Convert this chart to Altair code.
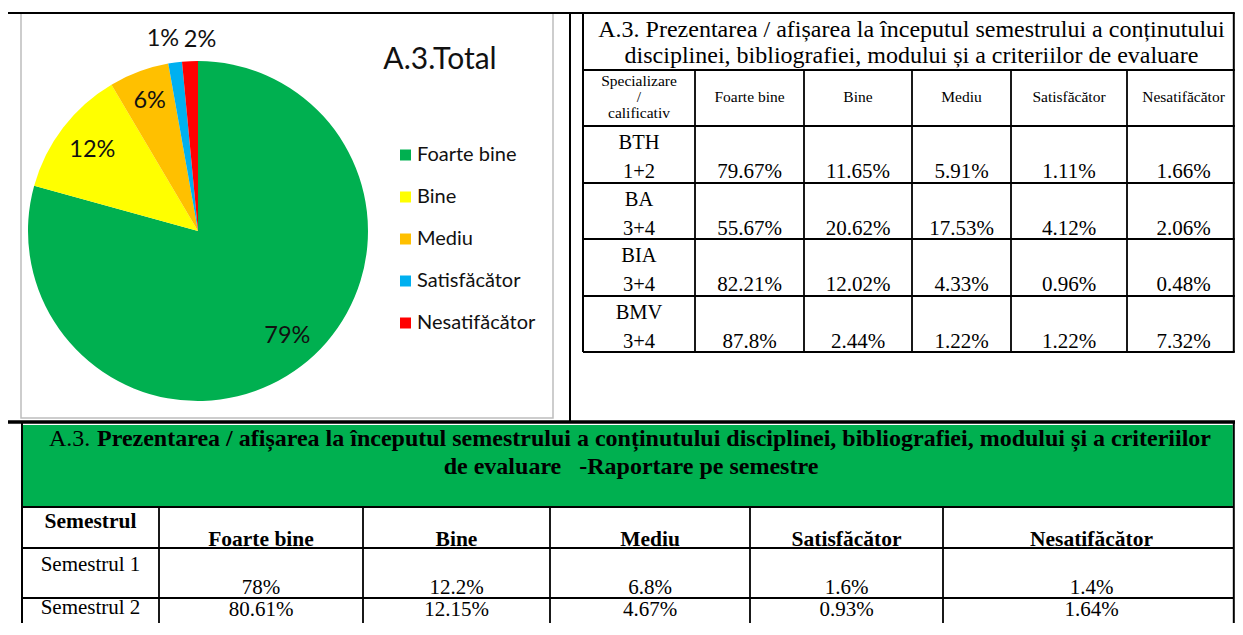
import altair as alt
import pandas as pd

# ---------------- data ----------------
categories = ["Foarte bine", "Bine", "Mediu", "Satisfăcător", "Nesatifăcător"]
total_values = [79.3, 12.2, 5.7, 1.3, 1.5]
total_labels = ["79%", "12%", "6%", "1%", "2%"]
colors = ["#00B050", "#FFFF00", "#FFC000", "#00B0F0", "#FF0000"]

spec_names = ["BTH", "BA", "BIA", "BMV"]
spec_years = ["1+2", "3+4", "3+4", "3+4"]
spec_foarte = [79.67, 55.67, 82.21, 87.8]
spec_bine = [11.65, 20.62, 12.02, 2.44]
spec_mediu = [5.91, 17.53, 4.33, 1.22]
spec_satis = [1.11, 4.12, 0.96, 1.22]
spec_nesat = [1.66, 2.06, 0.48, 7.32]

sem_names = ["Semestrul 1", "Semestrul 2"]
sem_foarte = [78, 80.61]
sem_bine = [12.2, 12.15]
sem_mediu = [6.8, 4.67]
sem_satis = [1.6, 0.93]
sem_nesat = [1.4, 1.64]

title_total = "A.3.Total"
title_right = ["A.3. Prezentarea / afișarea la începutul semestrului a conținutului",
               "disciplinei, bibliografiei, modului și a criteriilor de evaluare"]
title_bottom_a = "A.3."
title_bottom_b = "Prezentarea / afișarea la începutul semestrului a conținutului disciplinei, bibliografiei, modului și a criteriilor"
title_bottom_c = "de evaluare \u00a0 -Raportare pe semestre"
hdr_spec = ["Specializare", "/", "calificativ"]
hdr_sem = "Semestrul"

# ---------------- layout ----------------
W, H = 1227, 615
X_MAX, Y_MAX = 8 + W, 8 + H
xs = alt.Scale(domain=[8, X_MAX], nice=False, zero=False)
ys = alt.Scale(domain=[8, Y_MAX], nice=False, zero=False, reverse=True)
ts = alt.Scale(domain=[0, 100], range=[0, 6.283185307])

def X(f="x"):
    return alt.X(f"{f}:Q", scale=xs, axis=None)

def Y(f="y"):
    return alt.Y(f"{f}:Q", scale=ys, axis=None)

PIE_CX, PIE_CY, PIE_R = 198, 231, 170
RT_X = [583, 695, 804, 912, 1011, 1127, 1240]
RT_Y = [13, 70, 126, 183, 239, 296, 352]
BT_X = [22, 159, 363, 550, 750, 943, 1240]
BT_Y = [422, 507, 548, 598]
EDGE_R = X_MAX - 1.2   # right borders drawn at the visible edge

def fmt(v):
    return f"{v}%"

SERIF = "Liberation Serif"
SANS = "Lato"

layers = []

# green header band of bottom table
band = pd.DataFrame({"x": [BT_X[0] + 1], "x2": [EDGE_R - 1], "y": [BT_Y[0] + 3], "y2": [BT_Y[1]]})
layers.append(alt.Chart(band).mark_rect(color="#00B050").encode(
    x=X(), x2=alt.X2("x2:Q"), y=Y(), y2=alt.Y2("y2:Q")))

# gray frame round the pie chart
frame = pd.DataFrame({"x": [21], "x2": [553], "y": [13], "y2": [418]})
layers.append(alt.Chart(frame).mark_rect(fill="white", stroke="#BDBDBD", strokeWidth=1.5).encode(
    x=X(), x2=alt.X2("x2:Q"), y=Y(), y2=alt.Y2("y2:Q")))

# pie
pie_df = pd.DataFrame({"cat": categories, "val": total_values, "ord": list(range(5))})
color_enc = alt.Color("cat:N", scale=alt.Scale(domain=categories, range=colors), legend=None)
layers.append(alt.Chart(pie_df).mark_arc(outerRadius=PIE_R).encode(
    theta=alt.Theta("val:Q", stack=True, scale=ts),
    color=color_enc,
    order=alt.Order("ord:Q"),
    x=alt.X(datum=PIE_CX, scale=xs, axis=None),
    y=alt.Y(datum=PIE_CY, scale=ys, axis=None)))

# pie labels
cum = pd.Series(total_values).cumsum()
mids = cum - pd.Series(total_values) / 2
lab_df = pd.DataFrame({"label": total_labels, "mid": mids, "r": [136, 133, 139, 194, 191],
                       "i": list(range(5))})
for cond, dx, dy in [("datum.i == 0", 7, -3), ("datum.i == 1 || datum.i == 2", 0, 0),
                     ("datum.i == 3", -9, 0), ("datum.i == 4", 11, 0)]:
    layers.append(alt.Chart(lab_df).transform_filter(cond).mark_text(
        font=SANS, fontSize=23.5, color="#111111", dx=dx, dy=dy).encode(
        theta=alt.Theta("mid:Q", scale=ts, stack=False),
        radius=alt.Radius("r:Q", scale=None),
        text="label:N",
        x=alt.X(datum=PIE_CX, scale=xs, axis=None),
        y=alt.Y(datum=PIE_CY, scale=ys, axis=None)))

# pie title
layers.append(alt.Chart(pd.DataFrame({"x": [440], "y": [60], "t": [title_total]})).mark_text(
    font=SANS, fontSize=30, color="#111111").encode(x=X(), y=Y(), text="t:N"))

# legend
leg_df = pd.DataFrame({"cat": categories, "y": [155 + 42 * i for i in range(5)]})
leg_df["xs"] = 405.5
leg_df["xt"] = 417
layers.append(alt.Chart(leg_df).mark_square(size=121, opacity=1).encode(
    x=X("xs"), y=Y(), color=color_enc))
layers.append(alt.Chart(leg_df).mark_text(font=SANS, fontSize=20, align="left", color="#111111").encode(
    x=X("xt"), y=Y(), text="cat:N"))

# ---------- grid lines ----------
segs = []
def seg(x, y, x2, y2, w=2.0):
    segs.append({"x": x, "y": y, "x2": x2, "y2": y2, "w": w})

def clampx(v):
    return min(v, EDGE_R)

# outer document frame
seg(7, 13, RT_X[0], 13)
seg(7, 13, 7, Y_MAX)
seg(570, 13, 570, BT_Y[0])
seg(7, BT_Y[0], X_MAX, BT_Y[0], 3.5)
# right table
for yy in RT_Y:
    seg(RT_X[0], yy, clampx(RT_X[-1]) + 1, yy, 2.0)
seg(RT_X[0], RT_Y[0], RT_X[0], RT_Y[-1])
seg(clampx(RT_X[-1]), RT_Y[0], clampx(RT_X[-1]), RT_Y[-1])
for xx in RT_X[1:-1]:
    seg(xx, RT_Y[1], xx, RT_Y[-1], 1.8)
# bottom table
seg(BT_X[0], BT_Y[0], BT_X[0], Y_MAX)
seg(clampx(BT_X[-1]), BT_Y[0], clampx(BT_X[-1]), Y_MAX)
for yy in BT_Y[1:]:
    seg(BT_X[0], yy, clampx(BT_X[-1]), yy, 2.0)
for xx in BT_X[1:-1]:
    seg(xx, BT_Y[1], xx, Y_MAX, 1.8)

seg_df = pd.DataFrame(segs)
layers.append(alt.Chart(seg_df).mark_rule(color="black").encode(
    x=X(), x2=alt.X2("x2:Q"), y=Y(), y2=alt.Y2("y2:Q"), size=alt.Size("w:Q", scale=None)))

# ---------- texts ----------
texts = {}
def txt(key, x, y, t):
    texts.setdefault(key, []).append({"x": x, "y": y, "t": t})

def ctr(edges, i):
    return (edges[i] + edges[i + 1]) / 2

# right table title
txt("rt_title", (RT_X[0] + RT_X[-1]) / 2, 29.5, title_right[0])
txt("rt_title", (RT_X[0] + RT_X[-1]) / 2, 55.5, title_right[1])
# right table header
for k, h in enumerate(hdr_spec):
    txt("rt_hdr", ctr(RT_X, 0), 81 + 16 * k, h)
for c, cat in enumerate(categories):
    txt("rt_hdr", ctr(RT_X, c + 1), 97, cat)
# right table body
cols = [spec_foarte, spec_bine, spec_mediu, spec_satis, spec_nesat]
for r in range(len(spec_names)):
    top = RT_Y[r + 2]
    txt("rt_name", ctr(RT_X, 0), top + 17, spec_names[r])
    txt("rt_name", ctr(RT_X, 0), top + 46, spec_years[r])
    for c in range(5):
        txt("rt_val", ctr(RT_X, c + 1), top + 46, fmt(cols[c][r]))

# bottom table
txt("bt_title_a", 49, 439, title_bottom_a)
txt("bt_title_b", 97, 439, title_bottom_b)
txt("bt_title_c", (BT_X[0] + BT_X[-1]) / 2, 467, title_bottom_c)
txt("bt_hdr", ctr(BT_X, 0), 522, hdr_sem)
for c, cat in enumerate(categories):
    txt("bt_hdr", ctr(BT_X, c + 1), 540, cat)
scols = [sem_foarte, sem_bine, sem_mediu, sem_satis, sem_nesat]
for r in range(len(sem_names)):
    top = BT_Y[2] + 50 * r
    txt("bt_name", ctr(BT_X, 0), min(top + 17, Y_MAX - 15), sem_names[r])
    for c in range(5):
        txt("bt_val", ctr(BT_X, c + 1), min(top + 40, Y_MAX - 13), fmt(scols[c][r]))

styles = {
    "rt_title": dict(font=SERIF, fontSize=24),
    "rt_hdr": dict(font=SERIF, fontSize=15.5),
    "rt_name": dict(font=SERIF, fontSize=20.5),
    "rt_val": dict(font=SERIF, fontSize=21),
    "bt_title_a": dict(font=SERIF, fontSize=24, align="left"),
    "bt_title_b": dict(font=SERIF, fontSize=24, fontWeight="bold", align="left"),
    "bt_title_c": dict(font=SERIF, fontSize=24, fontWeight="bold"),
    "bt_hdr": dict(font=SERIF, fontSize=21.5, fontWeight="bold"),
    "bt_name": dict(font=SERIF, fontSize=21),
    "bt_val": dict(font=SERIF, fontSize=21),
}
for key, rows in texts.items():
    st = dict(color="#000000", baseline="middle")
    st.update(styles[key])
    layers.append(alt.Chart(pd.DataFrame(rows)).mark_text(**st).encode(
        x=X(), y=Y(), text="t:N"))

chart = alt.layer(*layers).properties(
    width=W, height=H, padding=0,
    autosize=alt.AutoSizeParams(type="none"),
).configure_view(stroke=None)

chart.save("out.html", embed_options={"renderer": "svg", "actions": False})
